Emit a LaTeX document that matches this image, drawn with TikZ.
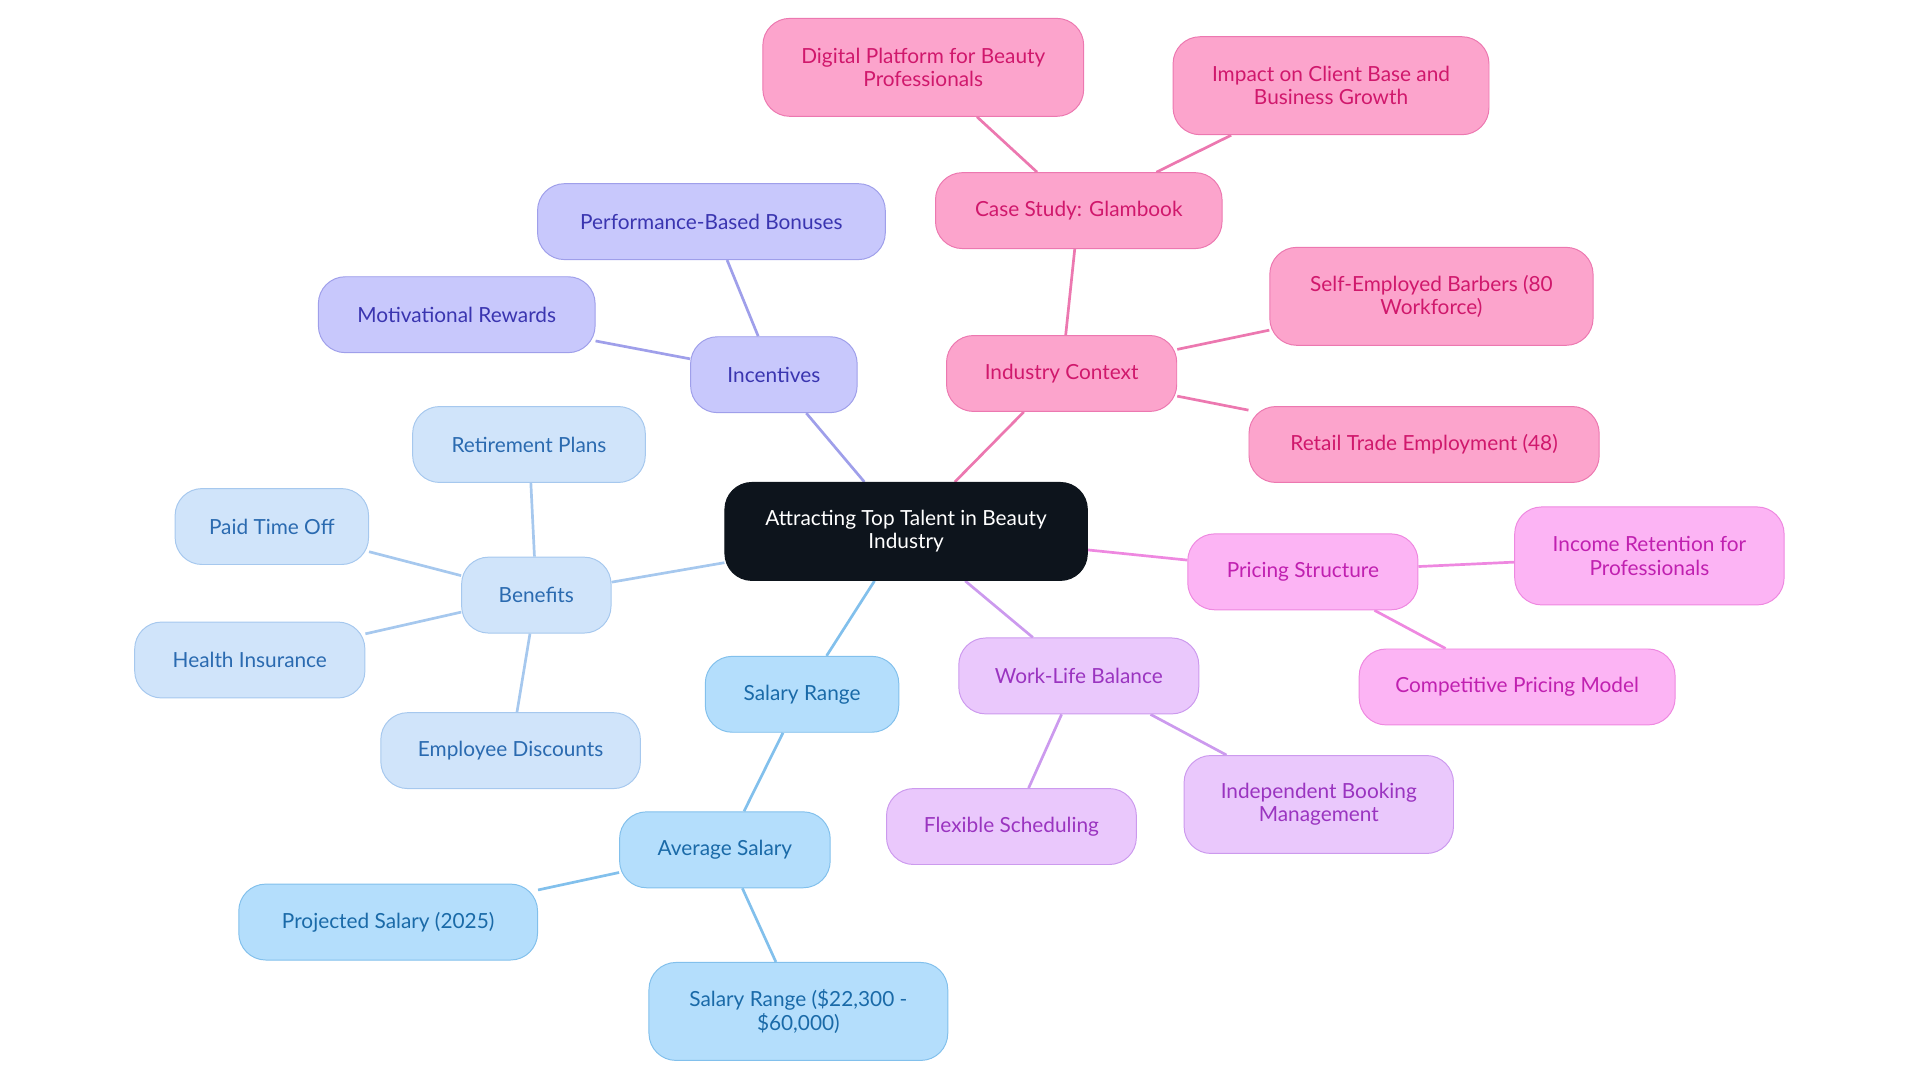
\documentclass[tikz,border=0pt]{standalone}
\usepackage{fontspec}
\setmainfont{Lato}
\usetikzlibrary{backgrounds}
\definecolor{cF}{HTML}{0D141C}
\definecolor{iF}{HTML}{C8C8FC}\definecolor{iD}{HTML}{9F9FEA}\definecolor{iT}{HTML}{3A35B0}
\definecolor{bF}{HTML}{D0E4FA}\definecolor{bD}{HTML}{A6C8EE}\definecolor{bT}{HTML}{2A6AB0}
\definecolor{sF}{HTML}{B4DEFC}\definecolor{sD}{HTML}{82C0EC}\definecolor{sT}{HTML}{1A6AA8}
\definecolor{wF}{HTML}{EAC8FC}\definecolor{wD}{HTML}{CC9AEE}\definecolor{wT}{HTML}{9A34C0}
\definecolor{pF}{HTML}{FCB4F4}\definecolor{pD}{HTML}{EE88E0}\definecolor{pT}{HTML}{C020B0}
\definecolor{nF}{HTML}{FCA4CC}\definecolor{nD}{HTML}{EC78B0}\definecolor{nT}{HTML}{D0186C}
\tikzset{
 box/.style={rounded corners=22pt,draw,line width=0.8pt,align=center,inner sep=0pt,
   font=\fontsize{17}{19}\selectfont},
 sz/.style 2 args={minimum width=#1pt,minimum height=#2pt},
 ic/.style={box,fill=iF,draw=iD,text=iT}, bc/.style={box,fill=bF,draw=bD,text=bT},
 sc/.style={box,fill=sF,draw=sD,text=sT}, wc/.style={box,fill=wF,draw=wD,text=wT},
 pc/.style={box,fill=pF,draw=pD,text=pT}, nc/.style={box,fill=nF,draw=nD,text=nT},
 ln/.style={line width=2.2pt}
}
\begin{document}
\begin{tikzpicture}[x=1pt,y=1pt]
\useasboundingbox (0,0) rectangle (1568,-884);
\node[box,fill=cF,draw=cF,text=white,sz={296}{80}] (c) at (740,-434) {Attracting Top Talent in Beauty\\Industry};
\node[ic,sz={136}{62}] (inc) at (632,-306) {Incentives};
\node[ic,sz={284}{62}] (pbb) at (581,-181) {Performance-Based Bonuses};
\node[ic,sz={226}{62}] (mr) at (373,-257) {Motivational Rewards};
\node[bc,sz={122}{62}] (ben) at (438,-486) {Benefits};
\node[bc,sz={190}{62}] (rp) at (432,-363) {Retirement Plans};
\node[bc,sz={158}{62}] (pto) at (222,-430) {Paid Time Off};
\node[bc,sz={188}{62}] (hi) at (204,-539) {Health Insurance};
\node[bc,sz={212}{62}] (ed) at (417,-613) {Employee Discounts};
\node[sc,sz={158}{62}] (sr) at (655,-567) {Salary Range};
\node[sc,sz={172}{62}] (as) at (592,-694) {Average Salary};
\node[sc,sz={244}{62}] (ps) at (317,-753) {Projected Salary (2025)};
\node[sc,sz={244}{80}] (srr) at (652,-826) {Salary Range (\$22,300 -\\\$60,000)};
\node[wc,sz={196}{62}] (wl) at (881,-552) {Work-Life Balance};
\node[wc,sz={204}{62}] (fs) at (826,-675) {Flexible Scheduling};
\node[wc,sz={220}{80}] (ibm) at (1077,-657) {Independent Booking\\Management};
\node[pc,sz={188}{62}] (pst) at (1064,-467) {Pricing Structure};
\node[pc,sz={220}{80}] (ir) at (1347,-454) {Income Retention for\\Professionals};
\node[pc,sz={258}{62}] (cpm) at (1239,-561) {Competitive Pricing Model};
\node[nc,sz={188}{62}] (ic) at (867,-305) {Industry Context};
\node[nc,sz={234}{62}] (cs) at (881,-172) {Case Study: Glambook};
\node[nc,sz={262}{80}] (dp) at (754,-55) {Digital Platform for Beauty\\Professionals};
\node[nc,sz={258}{80}] (icb) at (1087,-70) {Impact on Client Base and\\Business Growth};
\node[nc,sz={264}{80}] (seb) at (1169,-242) {Self-Employed Barbers (80\\Workforce)};
\node[nc,sz={286}{62}] (rte) at (1163,-363) {Retail Trade Employment (48)};
\begin{scope}[on background layer]
\draw[ln,iD] (c)--(inc) (inc)--(pbb) (inc)--(mr);
\draw[ln,bD] (c)--(ben) (ben)--(rp) (ben)--(pto) (ben)--(hi) (ben)--(ed);
\draw[ln,sD] (c)--(sr) (sr)--(as) (as)--(ps) (as)--(srr);
\draw[ln,wD] (c)--(wl) (wl)--(fs) (wl)--(ibm);
\draw[ln,pD] (c)--(pst) (pst)--(ir) (pst)--(cpm);
\draw[ln,nD] (c)--(ic) (ic)--(cs) (cs)--(dp) (cs)--(icb) (ic)--(seb) (ic)--(rte);
\end{scope}
\end{tikzpicture}
\end{document}
